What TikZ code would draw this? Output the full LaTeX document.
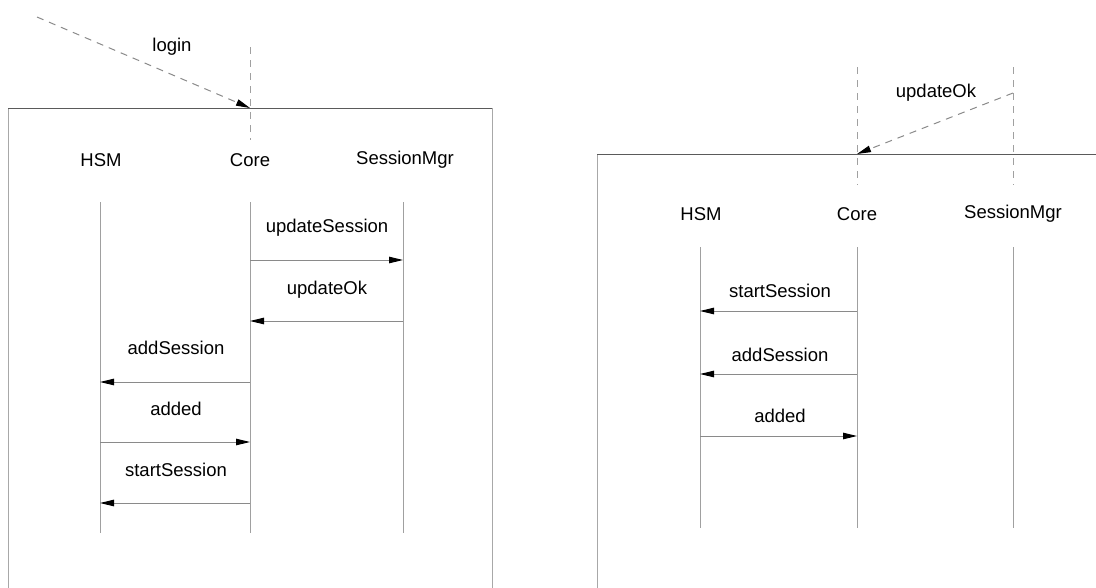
\documentclass[tikz,border=0pt]{standalone}
\usepackage{fontspec}
\setmainfont{Liberation Sans}
\usetikzlibrary{arrows.meta}
\definecolor{framedark}{HTML}{5A5A5A}
\definecolor{frameside}{HTML}{A8A8A8}
\definecolor{lifegray}{HTML}{A0A0A0}
\definecolor{msggray}{HTML}{8A8A8A}
\tikzset{
  lbl/.style={font=\fontsize{18.5}{22}\selectfont, inner sep=0pt},
  lifeline/.style={draw=lifegray, line width=1pt},
  msg/.style={draw=msggray, line width=1pt, -{Triangle[length=14pt,width=6.5pt]}, arrows={[color=black]}},
  dmsg/.style={draw=msggray, line width=1pt, dash pattern=on 7pt off 6pt, -{Triangle[length=14pt,width=6.5pt]}, arrows={[color=black]}},
  guide/.style={draw=lifegray, line width=1pt, dash pattern=on 7pt off 6pt},
}
\begin{document}
\begin{tikzpicture}[x=1pt, y=-1pt]
\useasboundingbox (0,0) rectangle (1096,587);
\clip (0,0) rectangle (1096,587);

% ---------- left sequence frame ----------
\draw[frameside, line width=1pt] (8,108) -- (8,600) (492,108) -- (492,600);
\draw[framedark, line width=1pt] (8,108) -- (492,108);

\node[lbl] (hsmA) at (101,160) {HSM};
\node[lbl] (coreA) at (250,160) {Core};
\node[lbl] (smA) at (405,160) {SessionMgr};

\coordinate (hsmAt) at (100,202);  \coordinate (hsmAb) at (100,533);
\coordinate (coreAt) at (250,202); \coordinate (coreAb) at (250,533);
\coordinate (smAt) at (403,202);   \coordinate (smAb) at (403,533);
\draw[lifeline] (hsmAt) -- (hsmAb);
\draw[lifeline] (coreAt) -- (coreAb);
\draw[lifeline] (smAt) -- (smAb);

\node[lbl] (m1) at (327,228) {updateSession};
\draw[msg] (coreAt |- 0,260) -- (smAt |- 0,260);
\node[lbl] (m2) at (327,290) {updateOk};
\draw[msg] (smAt |- 0,321) -- (coreAt |- 0,321);
\node[lbl] (m3) at (176,348) {addSession};
\draw[msg] (coreAt |- 0,382) -- (hsmAt |- 0,382);
\node[lbl] (m4) at (176,409) {added};
\draw[msg] (hsmAt |- 0,442) -- (coreAt |- 0,442);
\node[lbl] (m5) at (176,470) {startSession};
\draw[msg] (coreAt |- 0,503) -- (hsmAt |- 0,503);

% incoming login call
\coordinate (loginSrc) at (37,17);
\coordinate (loginDst) at (250,108);
\draw[guide] (250,47) -- (250,140);
\node[lbl] (loginL) at (172,47) {login};
\draw[dmsg] (loginSrc) -- (loginDst);

% ---------- right sequence frame ----------
\draw[frameside, line width=1pt] (597,154) -- (597,600);
\draw[framedark, line width=1pt] (597,154) -- (1100,154);

\node[lbl] (hsmB) at (701,214) {HSM};
\node[lbl] (coreB) at (857,214) {Core};
\node[lbl] (smB) at (1013,214) {SessionMgr};

\coordinate (hsmBt) at (700,247);  \coordinate (hsmBb) at (700,528);
\coordinate (coreBt) at (857,247); \coordinate (coreBb) at (857,528);
\coordinate (smBt) at (1013,247);  \coordinate (smBb) at (1013,528);
\draw[lifeline] (hsmBt) -- (hsmBb);
\draw[lifeline] (coreBt) -- (coreBb);
\draw[lifeline] (smBt) -- (smBb);

\node[lbl] (n1) at (780,291) {startSession};
\draw[msg] (coreBt |- 0,311) -- (hsmBt |- 0,311);
\node[lbl] (n2) at (780,355) {addSession};
\draw[msg] (coreBt |- 0,374) -- (hsmBt |- 0,374);
\node[lbl] (n3) at (780,416) {added};
\draw[msg] (hsmBt |- 0,436) -- (coreBt |- 0,436);

% incoming updateOk reply
\coordinate (okSrc) at (1013,93);
\coordinate (okDst) at (857,154);
\draw[guide] (857,67) -- (857,185);
\draw[guide] (1013,67) -- (1013,185);
\node[lbl] (okL) at (936,93) {updateOk};
\draw[dmsg] (okSrc) -- (okDst);
\end{tikzpicture}
\end{document}
